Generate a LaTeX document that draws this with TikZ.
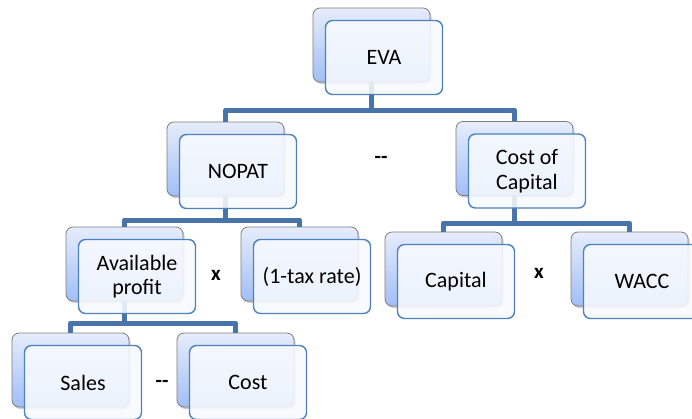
\documentclass[tikz,border=0pt]{standalone}
\usepackage{fontspec}
\setmainfont{Carlito}
\usetikzlibrary{shadows}
\definecolor{frontblue}{RGB}{79,129,189}
\definecolor{connblue}{RGB}{72,116,170}
\definecolor{backtop}{RGB}{230,237,251}
\definecolor{backbot}{RGB}{160,190,246}
\definecolor{backline}{RGB}{125,125,125}
\definecolor{frontfill}{RGB}{247,250,254}
\tikzset{
 backbox/.style={draw=backline, line width=0.8pt, rounded corners=7pt, minimum width=117pt, minimum height=74pt, top color=backtop, bottom color=backbot, inner sep=0pt, drop shadow={shadow xshift=1.5pt, shadow yshift=-2pt, opacity=0.4}},
 frontbox/.style={draw=frontblue, line width=1.4pt, rounded corners=7pt, minimum width=117pt, minimum height=74pt, fill=frontfill, fill opacity=0.88, text opacity=1, inner sep=0pt, align=center, font=\fontsize{22}{24.5}\selectfont},
 conn/.style={draw=connblue, line width=5pt, line join=round},
 op/.style={font=\fontsize{21}{24}\selectfont\bfseries}
}
\begin{document}
\begin{tikzpicture}[x=1pt,y=-1pt]
\useasboundingbox (0,0) rectangle (692,418);
\clip (0,0) rectangle (692,418);
% back boxes
\node[backbox] (evaB) at (371.5,45) {};
\node[backbox] (nopatB) at (225.5,159) {};
\node[backbox] (cocB) at (514.5,158.5) {};
\node[backbox] (availB) at (124.5,264) {};
\node[backbox] (taxB) at (299.5,264) {};
\node[backbox] (capB) at (443.5,269) {};
\node[backbox] (waccB) at (629.5,269) {};
\node[backbox] (salesB) at (70.5,370) {};
\node[backbox] (costB) at (235.5,370) {};
% bar levels
\coordinate (barA) at (0,110);
\coordinate (barB) at (0,220);
\coordinate (barC) at (0,223);
\coordinate (barD) at (0,323);
% connectors
\draw[conn] (evaB.south) -- (evaB.south |- barA);
\draw[conn] (nopatB.north) -- (nopatB.north |- barA) -- (cocB.north |- barA) -- (cocB.north);
\draw[conn] (nopatB.south) -- (nopatB.south |- barB);
\draw[conn] (availB.north) -- (availB.north |- barB) -- (taxB.north |- barB) -- (taxB.north);
\draw[conn] (cocB.south) -- (cocB.south |- barC);
\draw[conn] (capB.north) -- (capB.north |- barC) -- (waccB.north |- barC) -- (waccB.north);
\draw[conn] (availB.south) -- (availB.south |- barD);
\draw[conn] (salesB.north) -- (salesB.north |- barD) -- (costB.north |- barD) -- (costB.north);
% front boxes
\node[frontbox] (eva) at (384,57.5) {EVA};
\node[frontbox] (nopat) at (238,171.5) {NOPAT};
\node[frontbox] (coc) at (527,171) {Cost of\\Capital};
\node[frontbox] (avail) at (137,276.5) {Available\\profit};
\node[frontbox] (tax) at (312,276.5) {(1-tax rate)};
\node[frontbox] (cap) at (456,281.5) {Capital};
\node[frontbox] (wacc) at (642,281.5) {WACC};
\node[frontbox] (sales) at (83,382.5) {Sales};
\node[frontbox] (cost) at (248,382.5) {Cost};
% operators
\node[op] (op1) at (381,160) {-{}-};
\node[op] (op2) at (216,275) {x};
\node[op] (op3) at (539,273) {x};
\node[op] (op4) at (162,384) {-{}-};
\end{tikzpicture}
\end{document}
